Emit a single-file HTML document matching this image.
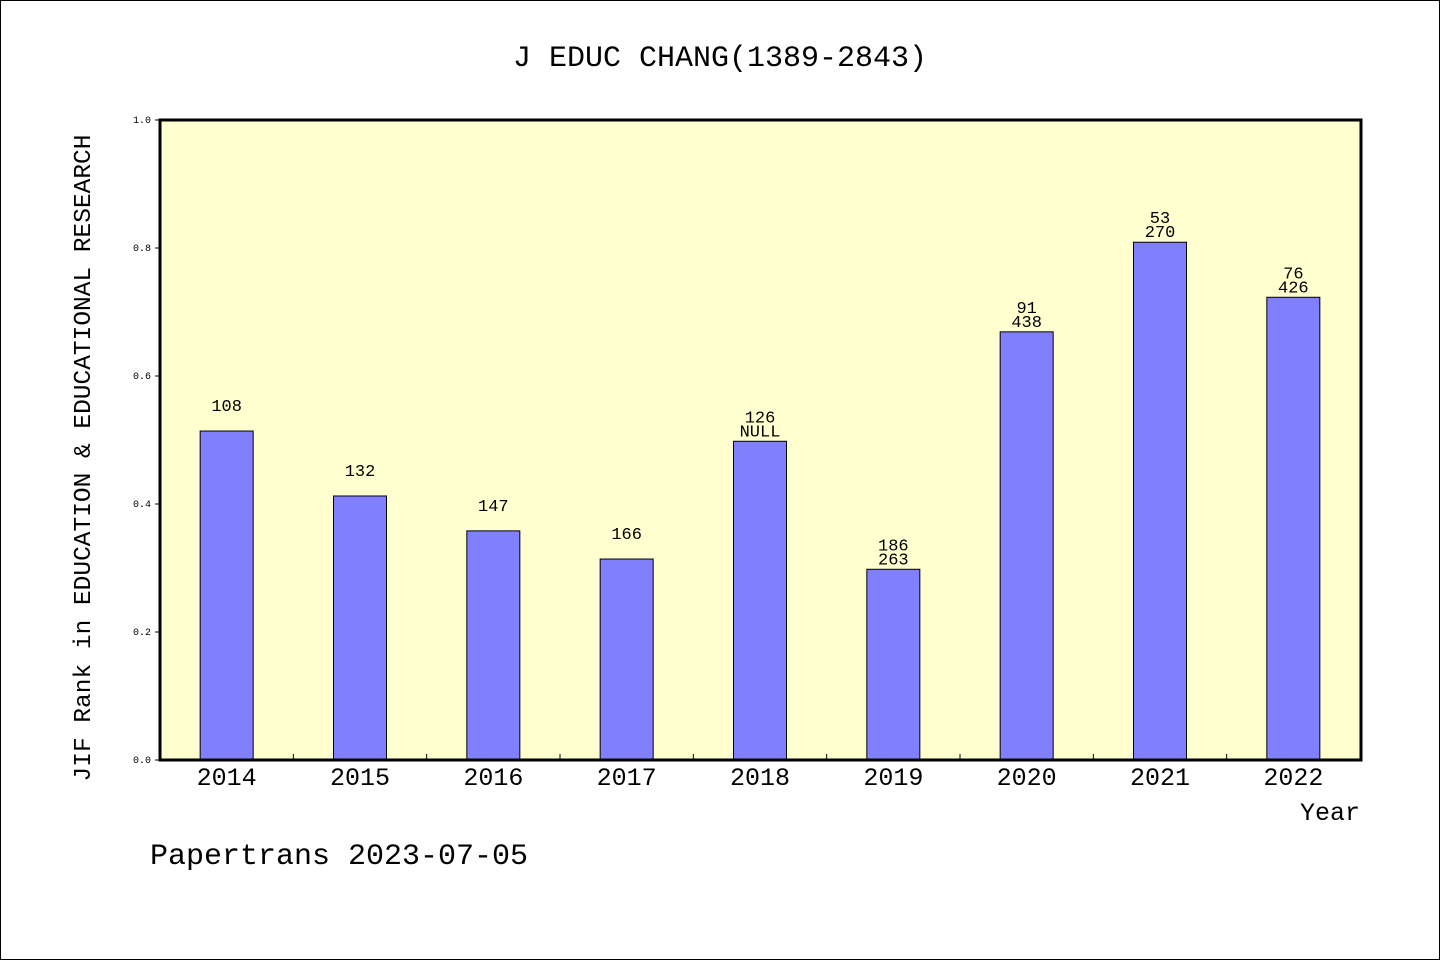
<!DOCTYPE html>
<html><head><meta charset="utf-8"><style>
body{margin:0;background:#fff}
svg text{font-family:"Liberation Mono",monospace}
</style></head><body>
<svg id="chart" width="1440" height="960">
<rect x="0.5" y="0.5" width="1439" height="959" fill="#fff" stroke="#000"/>
<text x="720" y="66" font-size="30" text-anchor="middle">J EDUC CHANG(1389-2843)</text>
<rect x="160" y="120" width="1201" height="640" fill="#ffffd0"/>
<g id="bars"></g>
<g id="axes"></g>
<text transform="translate(90,458) rotate(-90)" font-size="24.5" text-anchor="middle">JIF Rank in EDUCATION &amp; EDUCATIONAL RESEARCH</text>
<text x="1360" y="820" font-size="25" text-anchor="end">Year</text>
<text x="150" y="864" font-size="30">Papertrans 2023-07-05</text>
</svg>
<script>
const years=["2014","2015","2016","2017","2018","2019","2020","2021","2022"];
const values=[0.514,0.4125,0.358,0.314,0.498,0.298,0.669,0.809,0.723];
const labelTop=["108","132","147","166","126","186","91","53","76"];
const labelBottom=["","","","","NULL","263","438","270","426"];
const yTicks=[0,0.2,0.4,0.6,0.8,1.0];
const X0=160,W=1200,Y0=760,H=640;
const x=i=>X0+W/years.length*(i+0.5);
const y=v=>Y0-v*H;
const NS="http://www.w3.org/2000/svg";
function mk(t,a,p){const e=document.createElementNS(NS,t);for(const k in a)e.setAttribute(k,a[k]);p.appendChild(e);return e;}
const bars=document.getElementById('bars'),axes=document.getElementById('axes');
years.forEach((yr,i)=>{
 const r=mk('rect',{x:x(i)-26.5,y:y(values[i]),width:53,height:Y0-y(values[i]),fill:'#8080ff',stroke:'#000','stroke-width':1},bars);
 
 
 const top=y(values[i]);
 if(labelBottom[i]){
  const t1=mk('text',{x:x(i),y:top-19,'font-size':17,'text-anchor':'middle'},bars);t1.textContent=labelTop[i];
  
  
  const t2=mk('text',{x:x(i),y:top-5,'font-size':17,'text-anchor':'middle'},bars);t2.textContent=labelBottom[i];
  
  
 }else{
  const t1=mk('text',{x:x(i),y:top-20,'font-size':17,'text-anchor':'middle'},bars);t1.textContent=labelTop[i];
  
  
 }
 const xl=mk('text',{x:x(i),y:785,'font-size':25,'text-anchor':'middle'},axes);xl.textContent=yr;
 
 
 if(i>0){const tk=mk('line',{x1:X0+W/years.length*i,x2:X0+W/years.length*i,y1:Y0,y2:Y0-6,stroke:'#000'},axes);
 
 }
});
yTicks.forEach(v=>{
 const t=mk('text',{x:151,y:y(v)+3,'font-size':10,'text-anchor':'end'},axes);t.textContent=v.toFixed(1);
 
 
 const l=mk('line',{x1:155,x2:160,y1:y(v),y2:y(v),stroke:'#000'},axes);
 
 
});
const fr=mk('rect',{x:160,y:120,width:1201,height:640,fill:'none',stroke:'#000','stroke-width':3},axes);


</script>
</body></html>
